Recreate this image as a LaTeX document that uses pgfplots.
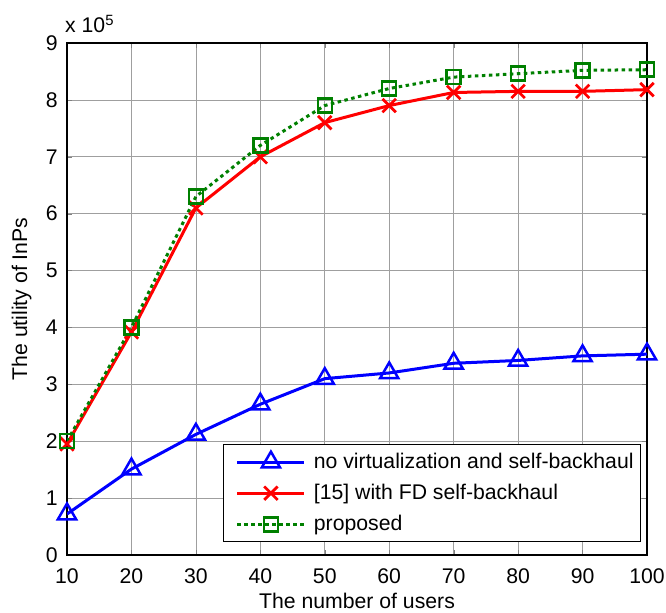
\documentclass[border=0pt]{standalone}
\usepackage{pgfplots}
\pgfplotsset{compat=1.18}
\usepackage{fontspec}
\setmainfont{Liberation Sans}
\definecolor{mgreen}{RGB}{0,128,0}
\begin{document}
\fontsize{21.3}{25}\selectfont
\begin{tikzpicture}
\begin{axis}[
  scale only axis,
  width=580bp, height=512bp,
  xmin=10, xmax=100, ymin=0, ymax=900000,
  xtick={10,20,...,100},
  ytick={0,100000,...,900000},
  scaled y ticks=base 10:-5,
  ytick scale label code/.code={x 10\textsuperscript{5}},
  every y tick scale label/.style={at={(rel axis cs:0,1)},anchor=base west,inner sep=0bp,yshift=10bp},
  /pgf/number format/assume math mode=true,
  tick label style={font=\fontsize{21.3}{25}\selectfont},
  xticklabel style={yshift=-6bp},
  yticklabel style={xshift=-2bp},
  label style={font=\fontsize{21.3}{25}\selectfont},
  xlabel={The number of users},
  ylabel={The utility of InPs},
  xlabel style={yshift=5bp},
  tick align=inside, tick pos=both,
  major tick length=5bp,
  grid=major,
  major grid style={gray!75, line width=0.6bp},
  axis line style={line width=1.3bp},
  legend style={at={(0.9897,0.0254)},anchor=south east, draw=black, line width=0.9bp,
    font=\fontsize{21.3}{25}\selectfont, row sep=8.5bp, inner xsep=5bp, inner ysep=6bp, cells={anchor=west}},
  legend cell align=left,
  legend image code/.code={\path (-7bp,0bp) (73bp,0bp);\draw[mark repeat=2,mark phase=2] plot coordinates {(0bp,0bp)(33.5bp,0bp)(67bp,0bp)};},
]
\coordinate (ll) at (rel axis cs:0,0);
\coordinate (ur) at (rel axis cs:1,1);
\addplot[blue, line width=3bp, mark=triangle, mark size=10.5bp, mark options={solid,line width=2.5bp}]
  coordinates {(10,72000)(20,151000)(30,212000)(40,265000)(50,310000)(60,320000)(70,337000)(80,342000)(90,350000)(100,353000)};
\addlegendentry{no virtualization and self-backhaul}
\addplot[red, line width=3bp, mark=x, mark size=9.5bp, mark options={solid,line width=2.7bp}]
  coordinates {(10,195000)(20,392000)(30,610000)(40,700000)(50,760000)(60,790000)(70,813000)(80,815000)(90,815000)(100,818000)};
\addlegendentry{[15] with FD self-backhaul}
\addplot[mgreen, line width=3bp, dash pattern=on 3.5bp off 3.5bp, mark=square, mark size=7bp, mark options={solid,line width=2.5bp}]
  coordinates {(10,200000)(20,400000)(30,630000)(40,720000)(50,790000)(60,820000)(70,840000)(80,846000)(90,852000)(100,853000)};
\addlegendentry{proposed}
\end{axis}
\pgfresetboundingbox
\path[use as bounding box] ([shift={(-67bp,-58bp)}]ll) rectangle ([shift={(19bp,43bp)}]ur);
\end{tikzpicture}
\end{document}
